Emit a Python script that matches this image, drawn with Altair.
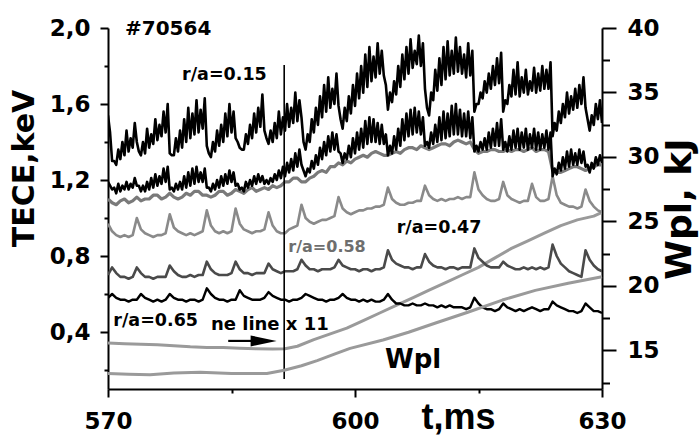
import altair as alt
import pandas as pd

# ---------------------------------------------------------------------------
# Shot #70564: ECE electron temperature channels (keV), from 570 ms
# ---------------------------------------------------------------------------
T0 = 570.0
DT = 0.5

# r/a = 0.15 core channel: noise floor (on the 0.5 ms grid) and noise
# crests (a quarter step later); the trace alternates between the two
te_015_floor = [
    1.54, 1.30, 1.28, 1.31, 1.33, 1.35, 1.37, 1.40, 1.33, 1.34,
    1.37, 1.39, 1.41, 1.43, 1.45, 1.34, 1.33, 1.35, 1.37, 1.40,
    1.42, 1.44, 1.45, 1.47, 1.38, 1.32, 1.35, 1.38, 1.40, 1.43,
    1.45, 1.42, 1.37, 1.36, 1.39, 1.42, 1.45, 1.48, 1.46, 1.39,
    1.40, 1.42, 1.44, 1.46, 1.48, 1.50, 1.51, 1.53, 1.36, 1.40,
    1.45, 1.49, 1.53, 1.56, 1.58, 1.60, 1.59, 1.47, 1.51, 1.55,
    1.59, 1.63, 1.66, 1.69, 1.72, 1.74, 1.76, 1.75, 1.57, 1.61,
    1.65, 1.69, 1.73, 1.76, 1.79, 1.81, 1.80, 1.68, 1.54, 1.62,
    1.67, 1.70, 1.73, 1.75, 1.76, 1.77, 1.76, 1.74, 1.75, 1.56,
    1.60, 1.63, 1.66, 1.68, 1.70, 1.71, 1.56, 1.60, 1.64, 1.65,
    1.64, 1.66, 1.65, 1.67, 1.66, 1.67, 1.68, 1.68, 1.43, 1.46,
    1.50, 1.53, 1.55, 1.57, 1.58, 1.60, 1.58, 1.46, 1.49, 1.52,
    1.50,
]
te_015_crest = [
    1.45, 1.30, 1.36, 1.40, 1.46, 1.42, 1.50, 1.35, 1.40, 1.47,
    1.44, 1.52, 1.49, 1.56, 1.60, 1.33, 1.42, 1.46, 1.52, 1.58,
    1.55, 1.62, 1.57, 1.63, 1.34, 1.40, 1.46, 1.49, 1.55, 1.60,
    1.56, 1.40, 1.36, 1.44, 1.49, 1.55, 1.58, 1.65, 1.42, 1.46,
    1.50, 1.56, 1.53, 1.60, 1.58, 1.66, 1.62, 1.40, 1.44, 1.52,
    1.58, 1.64, 1.70, 1.74, 1.68, 1.76, 1.52, 1.58, 1.64, 1.70,
    1.76, 1.80, 1.86, 1.90, 1.85, 1.92, 1.88, 1.70, 1.66, 1.72,
    1.80, 1.86, 1.90, 1.94, 1.88, 1.96, 1.92, 1.58, 1.66, 1.78,
    1.84, 1.90, 1.93, 1.88, 1.95, 1.90, 1.86, 1.92, 1.88, 1.60,
    1.66, 1.72, 1.76, 1.80, 1.84, 1.87, 1.62, 1.70, 1.78, 1.82,
    1.74, 1.78, 1.72, 1.79, 1.76, 1.80, 1.78, 1.82, 1.50, 1.56,
    1.60, 1.66, 1.64, 1.68, 1.70, 1.74, 1.52, 1.54, 1.60, 1.62,
]

# second core channel (black, just below)
te_030_floor = [
    1.19, 1.15, 1.13, 1.14, 1.15, 1.15, 1.16, 1.17, 1.14, 1.14,
    1.15, 1.16, 1.17, 1.18, 1.19, 1.15, 1.14, 1.15, 1.15, 1.16,
    1.17, 1.18, 1.19, 1.19, 1.16, 1.14, 1.15, 1.16, 1.17, 1.18,
    1.19, 1.17, 1.15, 1.14, 1.16, 1.17, 1.18, 1.19, 1.18, 1.18,
    1.19, 1.20, 1.21, 1.22, 1.24, 1.25, 1.27, 1.28, 1.22, 1.24,
    1.26, 1.28, 1.31, 1.33, 1.35, 1.36, 1.35, 1.29, 1.31, 1.32,
    1.34, 1.36, 1.37, 1.39, 1.40, 1.40, 1.39, 1.39, 1.33, 1.34,
    1.36, 1.38, 1.41, 1.43, 1.44, 1.45, 1.44, 1.38, 1.37, 1.39,
    1.40, 1.41, 1.42, 1.43, 1.44, 1.44, 1.43, 1.43, 1.42, 1.35,
    1.35, 1.36, 1.36, 1.37, 1.38, 1.38, 1.36, 1.35, 1.36, 1.37,
    1.36, 1.37, 1.36, 1.37, 1.36, 1.36, 1.37, 1.36, 1.22, 1.23,
    1.25, 1.26, 1.27, 1.28, 1.28, 1.29, 1.27, 1.24, 1.26, 1.28,
    1.29,
]
te_030_crest = [
    1.17, 1.16, 1.18, 1.17, 1.19, 1.18, 1.21, 1.17, 1.17, 1.19,
    1.21, 1.23, 1.22, 1.26, 1.27, 1.16, 1.18, 1.19, 1.22, 1.24,
    1.26, 1.27, 1.24, 1.26, 1.16, 1.18, 1.20, 1.22, 1.23, 1.25,
    1.24, 1.18, 1.16, 1.19, 1.20, 1.22, 1.23, 1.22, 1.20, 1.21,
    1.23, 1.25, 1.27, 1.29, 1.31, 1.34, 1.36, 1.25, 1.26, 1.30,
    1.33, 1.37, 1.40, 1.43, 1.45, 1.44, 1.34, 1.34, 1.38, 1.42,
    1.45, 1.47, 1.51, 1.53, 1.52, 1.50, 1.49, 1.44, 1.38, 1.43,
    1.47, 1.52, 1.55, 1.57, 1.58, 1.56, 1.53, 1.40, 1.45, 1.49,
    1.53, 1.56, 1.55, 1.59, 1.60, 1.57, 1.55, 1.56, 1.53, 1.38,
    1.40, 1.42, 1.45, 1.47, 1.50, 1.52, 1.40, 1.43, 1.46, 1.47,
    1.45, 1.47, 1.44, 1.47, 1.45, 1.44, 1.46, 1.45, 1.26, 1.29,
    1.32, 1.35, 1.36, 1.34, 1.36, 1.35, 1.28, 1.29, 1.32, 1.33,
]

# grey channel lying under the second core channel
te_grey = [
    1.10, 1.08, 1.07, 1.09, 1.10, 1.08, 1.09, 1.11, 1.09, 1.10,
    1.10, 1.12, 1.12, 1.10, 1.11, 1.13, 1.11, 1.10, 1.11, 1.13,
    1.12, 1.14, 1.14, 1.12, 1.12, 1.11, 1.12, 1.14, 1.14, 1.12,
    1.13, 1.15, 1.14, 1.13, 1.15, 1.16, 1.14, 1.15, 1.16, 1.15,
    1.17, 1.16, 1.17, 1.19, 1.19, 1.21, 1.21, 1.19, 1.19, 1.21,
    1.22, 1.24, 1.25, 1.24, 1.27, 1.27, 1.29, 1.28, 1.30, 1.29,
    1.31, 1.32, 1.33, 1.32, 1.34, 1.35, 1.34, 1.33, 1.33, 1.34,
    1.35, 1.34, 1.36, 1.37, 1.37, 1.36, 1.38, 1.37, 1.36, 1.37,
    1.38, 1.39, 1.39, 1.38, 1.40, 1.41, 1.40, 1.39, 1.40, 1.36,
    1.34, 1.35, 1.35, 1.36, 1.36, 1.35, 1.35, 1.36, 1.35, 1.36,
    1.36, 1.35, 1.36, 1.37, 1.35, 1.36, 1.36, 1.35, 1.25, 1.24,
    1.24, 1.25, 1.26, 1.27, 1.27, 1.26, 1.25, 1.26, 1.27, 1.28,
    1.28,
]

# r/a = 0.47
te_047 = [
    0.97, 0.93, 0.91, 0.90, 0.91, 0.90, 0.91, 1.00, 0.94, 0.92,
    0.91, 0.90, 0.91, 0.91, 0.92, 1.02, 0.95, 0.93, 0.92, 0.91,
    0.92, 0.91, 0.92, 0.93, 1.04, 0.96, 0.93, 0.92, 0.93, 0.92,
    0.93, 1.05, 0.97, 0.94, 0.93, 0.92, 0.93, 0.93, 0.94, 1.03,
    0.96, 0.93, 0.92, 0.92, 0.94, 0.95, 0.96, 1.07, 1.00, 0.98,
    0.97, 0.98, 0.99, 0.99, 1.00, 1.01, 1.11, 1.05, 1.03, 1.02,
    1.03, 1.04, 1.04, 1.05, 1.05, 1.06, 1.06, 1.07, 1.16, 1.10,
    1.08, 1.07, 1.07, 1.08, 1.08, 1.09, 1.09, 1.17, 1.12, 1.10,
    1.09, 1.10, 1.09, 1.10, 1.10, 1.11, 1.10, 1.11, 1.11, 1.24,
    1.15, 1.12, 1.10, 1.09, 1.09, 1.10, 1.19, 1.12, 1.10, 1.09,
    1.08, 1.09, 1.09, 1.18, 1.11, 1.09, 1.09, 1.10, 1.22, 1.12,
    1.08, 1.07, 1.06, 1.06, 1.05, 1.06, 1.15, 1.09, 1.06, 1.04,
    1.03,
]

# r/a = 0.58
te_058 = [
    0.70, 0.74, 0.71, 0.69, 0.69, 0.68, 0.69, 0.74, 0.71, 0.69,
    0.69, 0.68, 0.69, 0.69, 0.69, 0.75, 0.72, 0.70, 0.69, 0.69,
    0.70, 0.69, 0.70, 0.70, 0.77, 0.73, 0.71, 0.70, 0.70, 0.70,
    0.71, 0.77, 0.73, 0.71, 0.71, 0.70, 0.71, 0.71, 0.71, 0.76,
    0.73, 0.72, 0.71, 0.72, 0.72, 0.72, 0.73, 0.78, 0.75, 0.73,
    0.73, 0.72, 0.73, 0.73, 0.73, 0.74, 0.78, 0.75, 0.74, 0.73,
    0.73, 0.72, 0.73, 0.73, 0.72, 0.73, 0.73, 0.74, 0.83, 0.78,
    0.76, 0.75, 0.74, 0.74, 0.73, 0.74, 0.74, 0.81, 0.77, 0.75,
    0.74, 0.74, 0.73, 0.74, 0.74, 0.73, 0.74, 0.74, 0.74, 0.84,
    0.79, 0.77, 0.75, 0.74, 0.74, 0.74, 0.77, 0.75, 0.74, 0.73,
    0.73, 0.74, 0.73, 0.74, 0.73, 0.74, 0.73, 0.74, 0.86, 0.80,
    0.76, 0.74, 0.72, 0.71, 0.70, 0.69, 0.83, 0.78, 0.75, 0.73,
    0.72,
]

# r/a = 0.65
te_065 = [
    0.58, 0.60, 0.58, 0.57, 0.57, 0.56, 0.57, 0.57, 0.60, 0.58,
    0.57, 0.56, 0.57, 0.56, 0.57, 0.60, 0.58, 0.57, 0.57, 0.56,
    0.57, 0.57, 0.56, 0.57, 0.63, 0.60, 0.58, 0.57, 0.57, 0.56,
    0.57, 0.57, 0.62, 0.59, 0.58, 0.57, 0.57, 0.57, 0.58, 0.61,
    0.59, 0.58, 0.57, 0.57, 0.56, 0.57, 0.57, 0.58, 0.60, 0.59,
    0.58, 0.57, 0.57, 0.56, 0.57, 0.57, 0.58, 0.60, 0.58, 0.57,
    0.57, 0.56, 0.57, 0.56, 0.57, 0.56, 0.56, 0.57, 0.60, 0.57,
    0.55, 0.55, 0.54, 0.54, 0.55, 0.54, 0.54, 0.55, 0.54, 0.54,
    0.53, 0.54, 0.53, 0.54, 0.53, 0.53, 0.53, 0.52, 0.53, 0.58,
    0.55, 0.53, 0.52, 0.52, 0.51, 0.52, 0.55, 0.53, 0.52, 0.51,
    0.52, 0.51, 0.52, 0.53, 0.52, 0.51, 0.52, 0.52, 0.56, 0.54,
    0.53, 0.52, 0.51, 0.51, 0.50, 0.51, 0.55, 0.53, 0.51, 0.51,
    0.50,
]

# line-averaged density, multiplied by 11 (left axis units)
ne_t = [570, 572, 574, 576, 578, 580, 582, 584, 586, 588, 590, 591.5,
        593, 595, 597, 599, 601, 603, 605, 607, 609, 611, 613, 615,
        617, 619, 621, 623, 625, 627, 629, 630]
ne_v = [0.342, 0.338, 0.335, 0.333, 0.328, 0.322, 0.319, 0.318, 0.315,
        0.312, 0.310, 0.312, 0.325, 0.360, 0.390, 0.420, 0.460, 0.500,
        0.540, 0.580, 0.620, 0.660, 0.700, 0.740, 0.790, 0.840, 0.880,
        0.920, 0.960, 0.990, 1.010, 1.030]

# plasma stored energy, kJ (right axis)
wpl_t = [570, 572.5, 575.1, 578, 581.2, 585, 589.3, 591.4, 593.5, 595.4,
         597.5, 599.4, 603.4, 606.5, 609.7, 613.7, 617.9, 621.9, 625.9, 630]
wpl_v = [13.2, 13.15, 13.1, 13.25, 13.3, 13.2, 13.2, 13.45, 13.8, 14.2,
         14.7, 15.15, 15.8, 16.4, 17.1, 17.95, 18.9, 19.65, 20.2, 20.7]

# annotations: text, t, value, size, colour
labels = ["#70564", "r/a=0.15", "r/a=0.47", "r/a=0.58", "r/a=0.65", "ne line x 11"]
label_t = [572.06, 579.0, 605.07, 591.9, 570.65, 582.5]
label_v = [1.963, 1.726, 0.919, 0.823, 0.432, 0.411]
label_size = [20, 17.5, 17.5, 16, 17.5, 18]
label_color = ["#000000", "#000000", "#000000", "#6e6e6e", "#000000", "#000000"]

wpl_label_t, wpl_label_v = [603.64], [0.211]

# time marker and arrow (left axis units)
marker_t, marker_lo, marker_hi = [591.4], [0.153], [1.805]
arrow_t0, arrow_t1, arrow_head_t, arrow_v = 584.6, 587.6, 588.9, 0.353


def interleave(floor, crest):
    """Merge floor samples (on the grid) with crest samples (half a step later)."""
    t, v = [], []
    for i, f in enumerate(floor):
        t.append(T0 + DT * i)
        v.append(f)
        if i < len(crest):
            t.append(T0 + DT * i + DT / 2)
            v.append(crest[i])
    return t, v


t015, v015 = interleave(te_015_floor, te_015_crest)
t030, v030 = interleave(te_030_floor, te_030_crest)
t_edge = [T0 + DT * i for i in range(len(te_047))]

FONT = "DejaVu Sans"

x_enc = alt.X(
    "t:Q",
    scale=alt.Scale(domain=[570, 630], nice=False, zero=False),
    axis=alt.Axis(
        title="t,ms",
        values=[570, 585, 600, 615, 630],
        labelExpr="datum.value % 30 == 0 ? format(datum.value, 'd') : ''",
        tickSize={"condition": {"test": "datum.value % 30 == 0", "value": 8}, "value": 4},
        tickWidth=2, tickColor="black", domainWidth=2, domainColor="black",
        labelFont=FONT, labelFontWeight="bold", labelFontSize=23,
        labelColor="black", labelPadding=13, labelFlush=False, labelOverlap=False,
        grid=False,
        titleFont="Liberation Sans", titleFontWeight="bold", titleFontSize=36,
        titleColor="black", titleX=350, titleY=39, titleAlign="center",
        titleBaseline="alphabetic", titleAnchor="start",
    ),
)

y_left = alt.Y(
    "v:Q",
    scale=alt.Scale(domain=[0.1, 2.0], nice=False, zero=False),
    axis=alt.Axis(
        title="TECE,keV",
        orient="left",
        values=[0.2, 0.4, 0.6, 0.8, 1.0, 1.2, 1.4, 1.6, 1.8, 2.0],
        labelExpr="round(datum.value*10) % 4 == 0 ? replace(format(datum.value, '.1f'), '.', ',') : ''",
        tickSize={"condition": {"test": "round(datum.value*10) % 4 == 0", "value": 8}, "value": 4},
        tickWidth=2, tickColor="black", domainWidth=2, domainColor="black",
        labelFont=FONT, labelFontWeight="bold", labelFontSize=23,
        labelColor="black", labelPadding=10, labelFlush=False, labelOverlap=False,
        grid=False,
        titleFont=FONT, titleFontWeight="bold", titleFontSize=30,
        titleColor="black", titleAngle=270, titleX=-75, titleY=140,
        titleAlign="center", titleBaseline="alphabetic",
    ),
)

y_right = alt.Y(
    "w:Q",
    scale=alt.Scale(domain=[12, 40], nice=False, zero=False),
    axis=alt.Axis(
        title="Wpl, kJ",
        orient="right",
        values=[12.5, 15, 17.5, 20, 22.5, 25, 27.5, 30, 32.5, 35, 37.5, 40],
        labelExpr="datum.value % 5 == 0 ? format(datum.value, 'd') : ''",
        tickSize={"condition": {"test": "datum.value % 5 == 0", "value": 14}, "value": 7.5},
        tickWidth=2, tickColor="black", domainWidth=2, domainColor="black",
        labelFont=FONT, labelFontWeight="bold", labelFontSize=23,
        labelColor="black", labelPadding=11, labelFlush=False, labelOverlap=False,
        grid=False,
        titleFont=FONT, titleFontWeight="bold", titleFontSize=36,
        titleColor="black", titleAngle=270, titleX=88, titleY=180.5,
        titleAlign="center", titleBaseline="alphabetic",
    ),
)


def trace(t, v, color, width):
    df = pd.DataFrame({"t": t, "v": v})
    return alt.Chart(df).mark_line(
        color=color, strokeWidth=width, strokeJoin="round", clip=True
    ).encode(x=x_enc, y=y_left)


layers = [
    trace(ne_t, ne_v, "#9a9a9a", 3),
    trace(t_edge, te_065, "#000000", 2.4),
    trace(t_edge, te_058, "#4a4a4a", 2.6),
    trace(t_edge, te_047, "#8a8a8a", 2.6),
    trace(t_edge, te_grey, "#7a7a7a", 3.2),
    trace(t030, v030, "#000000", 2.6),
    trace(t015, v015, "#000000", 2.6),
]

marker = alt.Chart(
    pd.DataFrame({"t": marker_t, "v": marker_lo, "v2": marker_hi})
).mark_rule(color="black", strokeWidth=1.6).encode(x=x_enc, y=y_left, y2="v2:Q")

shaft = alt.Chart(
    pd.DataFrame({"t": [arrow_t0, arrow_t1], "v": [arrow_v, arrow_v]})
).mark_line(color="black", strokeWidth=2.2).encode(x=x_enc, y=y_left)

head = alt.Chart(
    pd.DataFrame({"t": [arrow_head_t], "v": [arrow_v]})
).mark_point(
    shape="M-1,-0.42L1,0L-1,0.42Z", filled=True, color="black", opacity=1, size=676
).encode(x=x_enc, y=y_left)

notes = alt.Chart(
    pd.DataFrame({"t": label_t, "v": label_v, "txt": labels,
                  "fs": label_size, "col": label_color})
).mark_text(
    align="left", baseline="alphabetic", font=FONT, fontWeight="bold"
).encode(
    x=x_enc, y=y_left, text="txt:N",
    size=alt.Size("fs:Q", scale=None, legend=None),
    color=alt.Color("col:N", scale=None, legend=None),
)

wpl_note = alt.Chart(
    pd.DataFrame({"t": wpl_label_t, "v": wpl_label_v, "txt": ["Wpl"]})
).mark_text(
    align="left", baseline="alphabetic", font=FONT, fontWeight="bold",
    fontSize=26, color="black"
).encode(x=x_enc, y=y_left, text="txt:N")

left_part = alt.layer(*layers, marker, shaft, head, notes, wpl_note)

wpl = alt.Chart(pd.DataFrame({"t": wpl_t, "w": wpl_v})).mark_line(
    color="#9a9a9a", strokeWidth=3, strokeJoin="round"
).encode(x=x_enc, y=y_right)

chart = alt.layer(left_part, wpl).resolve_scale(y="independent").properties(
    width=494,
    height=361,
    autosize=alt.AutoSizeParams(type="none"),
    padding={"left": 108, "top": 28, "right": 97, "bottom": 47},
    background="white",
).configure_view(strokeWidth=0)

chart.save("out.html", embed_options={"renderer": "svg", "actions": False})
